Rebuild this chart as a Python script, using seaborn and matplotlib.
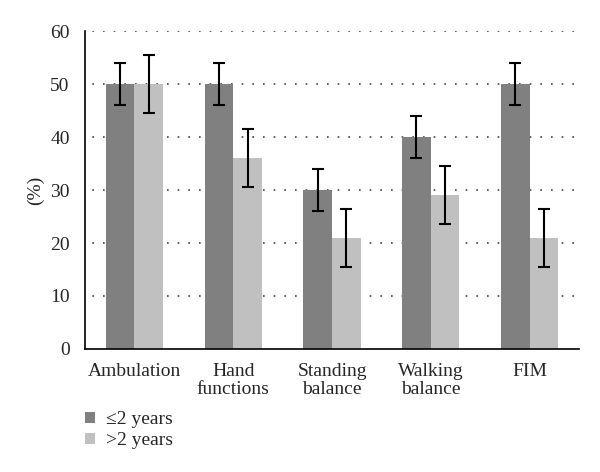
import matplotlib
matplotlib.use("Agg")
import matplotlib.pyplot as plt
import seaborn as sns
import pandas as pd
import numpy as np
from matplotlib.patches import Patch

categories = ["Ambulation", "Hand\nfunctions", "Standing\nbalance", "Walking\nbalance", "FIM"]
groups = ["\u22642 years", ">2 years"]
le2_values = [50, 50, 30, 40, 50]
le2_err = [4, 4, 4, 4, 4]
gt2_values = [50, 36, 21, 29, 21]
gt2_err = [5.5, 5.5, 5.5, 5.5, 5.5]
colors = ["#808080", "#c0c0c0"]

df = pd.DataFrame({
    "category": categories * 2,
    "group": [groups[0]] * 5 + [groups[1]] * 5,
    "value": le2_values + gt2_values,
    "err": le2_err + gt2_err,
})

sns.set_style("white")
plt.rcParams["font.family"] = ["Liberation Serif", "DejaVu Serif"]
FS = 14

fig = plt.figure(figsize=(6.0, 4.72), dpi=100)
ax = fig.add_axes([0.1417, 0.2606, 0.8233, 0.6737])

width = 0.58
sns.barplot(data=df, x="category", y="value", hue="group", palette=colors,
            errorbar=None, width=width, ax=ax, legend=False, saturation=1,
            linewidth=0, dodge=True, zorder=2)

# error bars at bar centers
for gi, (vals, errs) in enumerate([(le2_values, le2_err), (gt2_values, gt2_err)]):
    xs = np.arange(len(categories)) + (gi - 0.5) * width / 2
    ax.errorbar(xs, vals, yerr=errs, fmt="none", ecolor="black", elinewidth=1.5,
                capsize=4, capthick=1.5, zorder=5)

ax.set_ylim(0, 60)
ax.set_xlim(-0.5, len(categories) - 0.5)
ax.set_yticks(range(0, 61, 10))
for y in range(10, 61, 10):
    ax.axhline(y, color="#444444", linestyle=(2, (1, 5.4)), linewidth=1.2, zorder=0)

ax.set_xticks(np.arange(len(categories)))
ax.set_xticklabels(categories, fontsize=FS, linespacing=1.1)
ax.set_xticks(np.arange(-0.5, len(categories)), minor=True)
ax.tick_params(axis="x", which="major", length=0, pad=10)
ax.tick_params(axis="x", which="minor", length=5, width=1.2, color="black", direction="out")
ax.tick_params(axis="y", length=5, width=1.2, color="black", direction="out", labelsize=FS, pad=6)
ax.set_xlabel("")
ax.set_ylabel("(%)", fontsize=FS, labelpad=4)

for s in ["top", "right"]:
    ax.spines[s].set_visible(False)
for s in ["left", "bottom"]:
    ax.spines[s].set_color("black")
    ax.spines[s].set_linewidth(1.2)

handles = [Patch(facecolor=colors[0], edgecolor="none"),
           Patch(facecolor=colors[1], edgecolor="none")]
fig.legend(handles, groups, loc="upper left", bbox_to_anchor=(0.142, 0.129),
           frameon=False, fontsize=FS, handlelength=0.5, handleheight=0.5,
           handletextpad=0.55, labelspacing=0.2, borderaxespad=0, borderpad=0)

fig.savefig("out.png", dpi=100)
